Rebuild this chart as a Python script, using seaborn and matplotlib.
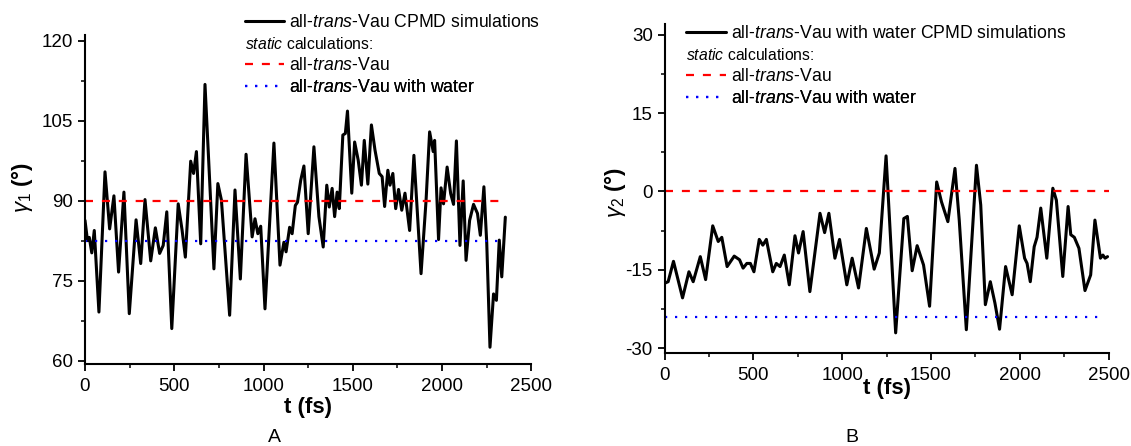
import matplotlib
matplotlib.use("Agg")
import matplotlib.pyplot as plt
import seaborn as sns
import pandas as pd
from matplotlib.lines import Line2D
from matplotlib.ticker import MultipleLocator

# ---------------- data ----------------
t_a = [0, 14, 24, 38, 52, 78, 112, 138, 162, 188, 218, 248, 286, 312, 336, 368, 394, 418, 438, 458,
       486, 522, 544, 562, 592, 608, 624, 648, 672, 722, 744, 764, 810, 840, 870, 902, 936, 952, 968, 984,
       1008, 1058, 1092, 1114, 1126, 1146, 1160, 1178, 1190, 1208, 1226, 1250, 1282, 1310, 1334, 1354,
       1368, 1384, 1398, 1412, 1424, 1444, 1458, 1470, 1494, 1510, 1530, 1548, 1564, 1584, 1604, 1624,
       1648, 1664, 1678, 1696, 1708, 1724, 1740, 1756, 1774, 1792, 1818, 1842, 1882, 1910, 1930, 1950,
       1958, 1980, 1994, 2008, 2028, 2048, 2064, 2080, 2100, 2118, 2134, 2154, 2176, 2198, 2214, 2234,
       2250, 2268, 2288, 2304, 2320, 2334, 2354]
gamma1 = [86.3, 82.5, 83.1, 80.2, 84.4, 69.1, 95.4, 84.7, 90.9, 76.6, 91.6, 68.8, 86.4, 78.2, 90.2,
          78.7, 84.9, 80.1, 81.6, 87.9, 66.0, 89.4, 84.4, 79.4, 97.4, 95.1, 99.2, 81.9, 111.8, 77.2,
          93.2, 90.1, 68.5, 92.0, 75.3, 98.7, 83.2, 86.6, 83.8, 85.2, 69.7, 100.8, 77.9, 82.2, 80.4,
          85.0, 83.8, 89.1, 89.7, 93.8, 96.5, 83.8, 100.1, 87.0, 81.3, 92.9, 88.8, 92.3, 87.0, 91.6,
          88.5, 102.3, 102.6, 106.8, 91.4, 101.0, 97.6, 92.9, 101.3, 93.1, 104.2, 99.5, 95.1, 94.5,
          88.9, 95.7, 92.9, 95.1, 88.5, 92.1, 88.2, 91.4, 84.4, 98.5, 76.3, 90.0, 102.9, 99.2, 101.3,
          82.7, 92.4, 89.4, 96.3, 91.3, 89.3, 101.2, 81.6, 93.7, 78.8, 86.3, 89.3, 87.6, 83.5, 92.6,
          82.0, 62.5, 72.5, 71.3, 82.6, 75.7, 86.9]

t_b = [0, 20, 50, 101, 137, 161, 201, 231, 271, 302, 322, 352, 392, 422, 442, 463, 483, 503, 533, 553,
       573, 609, 629, 650, 674, 702, 734, 754, 780, 818, 875, 901, 925, 959, 985, 1026, 1056, 1092,
       1136, 1180, 1209, 1247, 1301, 1347, 1367, 1394, 1422, 1458, 1492, 1532, 1559, 1595, 1635, 1659,
       1699, 1756, 1780, 1806, 1834, 1860, 1886, 1920, 1957, 1997, 2027, 2041, 2059, 2081, 2097, 2118,
       2152, 2186, 2206, 2242, 2272, 2287, 2307, 2333, 2367, 2399, 2423, 2454, 2468, 2480, 2494]
gamma2 = [-17.6, -17.3, -13.4, -20.4, -15.4, -17.3, -12.5, -16.9, -6.6, -9.6, -8.8, -14.4, -12.4, -13.1,
          -14.7, -13.8, -13.8, -15.4, -9.2, -10.3, -9.2, -15.4, -13.8, -14.4, -12.2, -17.9, -8.5, -11.8,
          -7.7, -19.2, -4.2, -7.9, -4.2, -12.8, -9.2, -17.9, -12.8, -18.5, -7.1, -14.9, -11.8, 6.8,
          -27.1, -5.2, -4.8, -15.2, -10.4, -14.1, -22.0, 1.8, -2.0, -5.8, 4.4, -5.5, -26.5, 5.0, -2.6,
          -21.7, -17.3, -21.4, -26.4, -14.4, -19.8, -6.6, -12.8, -13.8, -17.3, -10.6, -8.8, -3.2, -12.8,
          0.6, -1.7, -16.3, -2.9, -8.3, -8.8, -10.9, -19.0, -16.0, -5.5, -12.8, -12.2, -12.8, -12.5]

# static calculation reference values
static_a = [90.0, 82.5]          # all-trans-Vau, all-trans-Vau with water (panel A)
static_b = [0.0, -24.0]          # panel B
range_a = [0, 2354]
range_b_red = [0, 2500]
range_b_blue = [0, 2475]

label_a = r"all-$\it{trans}$-Vau CPMD simulations"
label_b = r"all-$\it{trans}$-Vau with water CPMD simulations"
label_static = r"$\it{static}$ calculations:"
label_red = r"all-$\it{trans}$-Vau"
label_blue = r"all-$\it{trans}$-Vau with water"

# ---------------- style ----------------
sns.set_theme(style="ticks")
plt.rcParams['font.family'] = ['Liberation Sans', 'DejaVu Sans']
plt.rcParams['mathtext.fontset'] = 'custom'
plt.rcParams['mathtext.rm'] = 'Liberation Sans'
plt.rcParams['mathtext.it'] = 'Liberation Sans:italic'
plt.rcParams['mathtext.bf'] = 'Liberation Sans:bold'
plt.rcParams['axes.unicode_minus'] = False
plt.rcParams['text.color'] = 'black'
plt.rcParams['axes.labelcolor'] = 'black'
plt.rcParams['xtick.color'] = 'black'
plt.rcParams['ytick.color'] = 'black'
plt.rcParams['legend.labelcolor'] = 'black'

W, H = 1131, 446
fig = plt.figure(figsize=(W / 100, H / 100), dpi=100)

def px(x0, y0, x1, y1):
    return [x0 / W, 1 - y1 / H, (x1 - x0) / W, (y1 - y0) / H]

axA = fig.add_axes(px(85.0, 35.0, 531.4, 364.3))
axB = fig.add_axes(px(664.6, 24.3, 1108.6, 352.7))

red_kw = dict(color='#ff0000', lw=1.6, dashes=(3.6, 4.0))
blue_kw = dict(color='#0000ff', lw=1.6, dashes=(1.0, 3.5))
black_lw = 2.2

def draw(ax, t, g, static, rred, rblue):
    df = pd.DataFrame({'t': t, 'g': g})
    sns.lineplot(data=df, x='t', y='g', ax=ax, color='black', lw=black_lw, sort=False, estimator=None)
    ax.plot(rred, [static[0]] * 2, **red_kw)
    ax.plot(rblue, [static[1]] * 2, **blue_kw)

draw(axA, t_a, gamma1, static_a, range_a, range_a)
draw(axB, t_b, gamma2, static_b, range_b_red, range_b_blue)

axA.set_xlim(0, 2500)
axA.set_ylim(59.3, 121.07)
axB.set_xlim(0, 2500)
axB.set_ylim(-30.9, 32.0)

for ax in (axA, axB):
    ax.xaxis.set_major_locator(MultipleLocator(500))
    ax.xaxis.set_minor_locator(MultipleLocator(250))
    ax.yaxis.set_major_locator(MultipleLocator(15))
    ax.yaxis.set_minor_locator(MultipleLocator(7.5))
    for s in ('top', 'right'):
        ax.spines[s].set_visible(False)
    for s in ('left', 'bottom'):
        ax.spines[s].set_linewidth(1.5)
        ax.spines[s].set_color('black')
    ax.tick_params(which='major', length=5, width=1.3, labelsize=13.5, colors='black', pad=3.5)
    ax.tick_params(which='minor', length=3, width=1.1, colors='black')
    ax.tick_params(axis='x', which='major', pad=5)
    ax.set_xlabel('t (fs)', fontsize=16, fontweight='bold', color='black')
    ax.grid(False)

axA.set_ylabel(r"$\gamma_1$ (°)", fontsize=16, fontweight='bold', color='black')
axB.set_ylabel(r"$\gamma_2$ (°)", fontsize=16, fontweight='bold', color='black')
axA.yaxis.set_label_coords(-0.112, 0.538)
axB.yaxis.set_label_coords(-0.083, 0.489)
axA.xaxis.labelpad = 1
axB.xaxis.labelpad = -4

LEG_FS = 12.7

def one_legend(ax, handle, text, x_px, yc_px):
    leg = ax.legend([handle], [text], loc='center left',
                    bbox_to_anchor=(x_px / W, 1 - yc_px / H), bbox_transform=fig.transFigure,
                    frameon=False, fontsize=LEG_FS, borderpad=0, borderaxespad=0,
                    handlelength=2.25, handletextpad=0.28, labelcolor='black')
    ax.add_artist(leg)
    return leg

def legend_block(ax, main_label, x_px, rows):
    one_legend(ax, Line2D([], [], color='black', lw=black_lw), main_label, x_px, rows[0])
    fig.text(x_px / W, 1 - rows[1] / H, label_static, fontsize=11.3, va='center', ha='left',
             color='black')
    one_legend(ax, Line2D([], [], **red_kw), label_red, x_px, rows[2])
    one_legend(ax, Line2D([], [], **blue_kw), label_blue, x_px, rows[3])

legend_block(axA, label_a, 244.6, [22.3, 44.3, 66.0, 87.7])
legend_block(axB, label_b, 686.0, [33.3, 55.3, 76.7, 98.7])

fig.text(274 / W, 1 - 437 / H, 'A', fontsize=14, ha='center', va='center', color='black')
fig.text(852 / W, 1 - 437 / H, 'B', fontsize=14, ha='center', va='center', color='black')

fig.savefig('out.png', dpi=100)
